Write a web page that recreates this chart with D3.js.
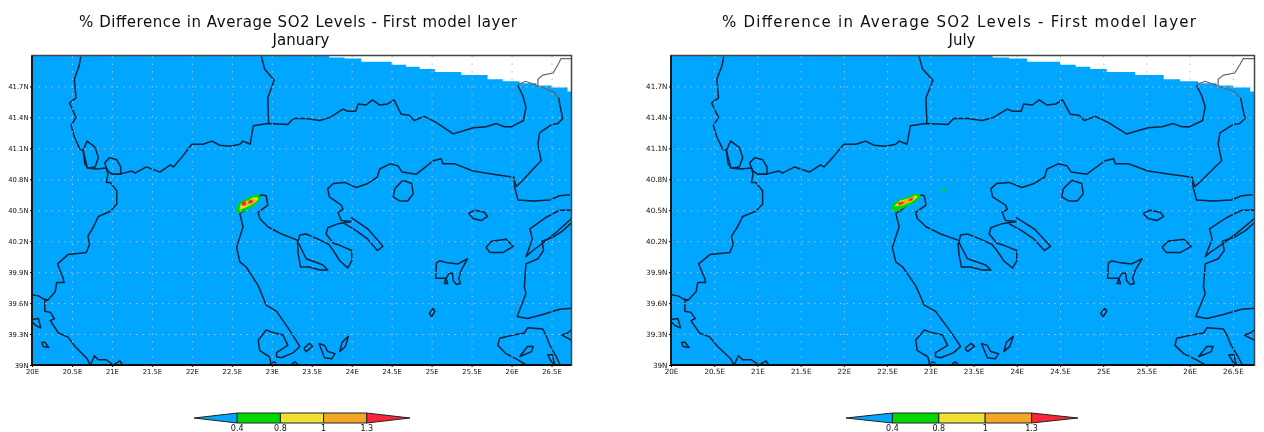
<!DOCTYPE html>
<html>
<head>
<meta charset="utf-8">
<title>SO2 difference</title>
<script src="https://cdnjs.cloudflare.com/ajax/libs/d3/7.8.5/d3.min.js"></script>
<style>
    body { margin: 0; background: #fff; }
    svg { display: block; }
    text { font-family: "DejaVu Sans", sans-serif; fill: #111; }
    .domain { display: none; }
</style>
</head>
<body>
<div id="chart"></div>
<script>
var titleText = "% Difference in Average SO2 Levels  - First model layer";
var months = ["January", "July"];

var lonTicks = [20, 20.5, 21, 21.5, 22, 22.5, 23, 23.5, 24, 24.5, 25, 25.5, 26, 26.5];
var latTicks = [39, 39.3, 39.6, 39.9, 40.2, 40.5, 40.8, 41.1, 41.4, 41.7];

var legendLevels = [0.4, 0.8, 1, 1.3];
var legendColors = ["#00a6ff", "#00d800", "#f0e030", "#f0a828", "#f82838"];

// upper edge of the model grid [lon, lat]
var gridEdge = [[20, 42], [23.72, 41.98], [23.91, 41.97], [24.12, 41.94], [24.5, 41.91], [24.68, 41.89], [24.85, 41.87],
    [25.04, 41.84], [25.37, 41.81], [25.7, 41.77], [25.89, 41.75], [26.1, 41.73], [26.31, 41.71], [26.5, 41.69], [26.7, 41.65], [26.75, 41.65]];

// coastlines and borders [lon, lat]
var albaniaBorder = [[20.61, 41.99], [20.59, 41.9], [20.53, 41.77], [20.55, 41.59], [20.47, 41.54], [20.55, 41.4], [20.49, 41.32],
    [20.53, 41.21], [20.6, 41.09], [20.64, 41.08], [20.68, 40.95], [20.69, 40.91], [20.81, 40.9], [20.93, 40.91], [20.95, 40.85],
    [20.93, 40.77], [20.98, 40.77], [21.06, 40.69], [21.06, 40.56], [20.98, 40.49], [20.83, 40.44], [20.77, 40.34], [20.7, 40.25],
    [20.72, 40.17], [20.68, 40.09], [20.45, 40.07], [20.32, 39.98], [20.39, 39.84], [20.4, 39.8], [20.31, 39.8], [20.29, 39.71],
    [20.2, 39.63], [20.16, 39.62], [20.16, 39.52], [20.23, 39.51], [20.28, 39.45], [20.23, 39.43], [20.33, 39.31], [20.45, 39.27],
    [20.54, 39.18], [20.69, 39.06], [20.73, 39]];
var epirusBranch = [[20, 39.68], [20.08, 39.67], [20.14, 39.64], [20.2, 39.63]];
var corfu = [[20, 39.44], [20.08, 39.45], [20.11, 39.36], [20.05, 39.38], [20, 39.42]];
var paxos = [[20.12, 39.22], [20.16, 39.22], [20.21, 39.17], [20.14, 39.18], [20.12, 39.22]];
var amvrakikos = [[20.73, 39], [20.78, 39.09], [20.83, 39.05], [20.93, 39.05], [21, 39.01], [21.02, 39], [21.1, 39.04], [21.13, 39]];
var lakeOhrid = [[20.64, 41.08], [20.69, 41.17], [20.79, 41.11], [20.83, 41.01], [20.79, 40.92], [20.7, 40.91], [20.66, 40.95], [20.64, 41.08]];
var lakePrespa = [[20.93, 40.91], [20.91, 40.96], [20.97, 41.01], [21.06, 40.99], [21.11, 40.92], [21.11, 40.85], [21, 40.85], [20.95, 40.88], [20.93, 40.91]];
var northBorder = [[21, 40.85], [21.1, 40.85], [21.25, 40.88], [21.29, 40.86], [21.43, 40.92], [21.6, 40.87], [21.73, 40.94], [21.77, 40.92],
    [21.87, 41.01], [22, 41.14], [22.14, 41.14], [22.25, 41.17], [22.35, 41.13], [22.48, 41.12], [22.6, 41.14], [22.64, 41.17],
    [22.73, 41.14], [22.77, 41.32], [22.95, 41.34], [23.2, 41.33], [23.27, 41.39], [23.43, 41.39], [23.6, 41.37], [23.73, 41.4],
    [23.89, 41.48], [23.95, 41.46], [24.05, 41.46], [24.08, 41.53], [24.18, 41.52], [24.26, 41.57], [24.35, 41.52], [24.45, 41.53],
    [24.53, 41.57], [24.62, 41.43], [24.72, 41.42], [24.78, 41.37], [24.91, 41.41], [25.06, 41.35], [25.27, 41.24], [25.52, 41.3],
    [25.68, 41.31], [25.81, 41.34], [25.91, 41.31], [26, 41.31], [26.15, 41.37], [26.18, 41.5], [26.14, 41.61], [26.08, 41.71]];
var serbiaBorder = [[22.87, 41.99], [22.91, 41.87], [23.03, 41.76], [22.95, 41.59], [22.96, 41.34]];
var evrosBorder = [[26.59, 41.59], [26.61, 41.5], [26.64, 41.39], [26.58, 41.34], [26.5, 41.33], [26.35, 41.25], [26.33, 41.14],
    [26.37, 40.98], [26.27, 40.9], [26.14, 40.79], [26.06, 40.73], [26.03, 40.8]];
var outerBorderA = [[26.08, 41.72], [26.18, 41.75], [26.31, 41.71], [26.41, 41.68], [26.52, 41.65], [26.59, 41.59]];
var outerBorderB = [[26.33, 41.71], [26.33, 41.77], [26.39, 41.81], [26.52, 41.83], [26.58, 41.91], [26.62, 41.97], [26.75, 41.97]];
var thraceCoast = [[26.73, 40.65], [26.6, 40.64], [26.48, 40.6], [26.27, 40.59], [26.08, 40.6], [26.04, 40.72], [26.03, 40.82], [25.77, 40.85],
    [25.52, 40.88], [25.29, 40.95], [25.14, 40.95], [25.12, 41], [25.02, 40.98], [24.81, 40.85], [24.63, 40.87], [24.58, 40.93], [24.48, 40.95],
    [24.35, 40.9], [24.32, 40.82], [24.2, 40.76], [24.06, 40.72], [23.91, 40.77], [23.77, 40.76], [23.7, 40.71], [23.72, 40.63], [23.87, 40.55],
    [23.89, 40.51], [23.83, 40.48], [23.87, 40.4], [24, 40.39]];
var athos = [[23.99, 40.43], [24.2, 40.32], [24.39, 40.15], [24.32, 40.11], [24.2, 40.22], [24.06, 40.3], [23.91, 40.37]];
var sithonia = [[24, 40.39], [23.83, 40.37], [23.7, 40.33], [23.68, 40.27], [23.77, 40.18], [23.85, 40.16], [24, 40.11], [24, 40.01], [23.95, 39.94],
    [23.85, 40.01], [23.77, 40.11], [23.71, 40.17], [23.58, 40.22], [23.43, 40.27], [23.35, 40.26], [23.33, 40.19], [23.43, 40.03], [23.5, 40.01],
    [23.64, 39.97], [23.7, 39.92], [23.6, 39.92], [23.47, 39.95], [23.36, 39.95], [23.33, 40.08], [23.32, 40.21]];
var thermaikos = [[23.32, 40.21], [23.12, 40.27], [22.95, 40.34], [22.85, 40.42], [22.83, 40.48], [22.95, 40.55], [22.93, 40.64], [22.87, 40.65],
    [22.8, 40.6], [22.66, 40.5], [22.6, 40.47], [22.64, 40.34], [22.56, 40.14], [22.6, 40], [22.68, 39.95], [22.83, 39.77], [22.93, 39.58],
    [23.06, 39.52], [23.22, 39.34], [23.35, 39.18], [23.27, 39.12], [23.12, 39.07], [23.06, 39.08], [23.06, 39.12], [23.2, 39.19], [23.14, 39.29],
    [22.99, 39.32], [22.93, 39.34], [22.83, 39.24], [22.85, 39.14], [22.97, 39.08], [22.99, 39.02], [22.97, 39]];
var pagasitikosEdge = [[22.99, 39], [23.02, 39.03], [23.06, 39.02]];
var euboeaTip = [[23.25, 39.01], [23.29, 39.03], [23.32, 39.01]];
var skiathos = [[23.4, 39.16], [23.47, 39.21], [23.51, 39.18], [23.43, 39.13], [23.4, 39.16]];
var skopelos = [[23.59, 39.21], [23.66, 39.19], [23.7, 39.13], [23.79, 39.11], [23.75, 39.06], [23.66, 39.07], [23.59, 39.21]];
var alonissos = [[23.96, 39.28], [23.92, 39.18], [23.85, 39.13], [23.88, 39.22], [23.96, 39.28]];
var thasos = [[24.54, 40.71], [24.64, 40.79], [24.75, 40.76], [24.77, 40.66], [24.7, 40.59], [24.6, 40.59], [24.52, 40.63], [24.54, 40.71]];
var samothraki = [[25.46, 40.47], [25.54, 40.5], [25.66, 40.48], [25.7, 40.44], [25.62, 40.4], [25.52, 40.42], [25.46, 40.47]];
var imbros = [[25.68, 40.14], [25.75, 40.2], [25.93, 40.22], [26.02, 40.15], [25.89, 40.09], [25.73, 40.09], [25.68, 40.14]];
var lemnos = [[25.06, 39.99], [25.1, 40.01], [25.2, 39.99], [25.33, 39.98], [25.45, 40.03], [25.37, 39.92], [25.34, 39.84], [25.36, 39.79],
    [25.31, 39.78], [25.27, 39.82], [25.26, 39.89], [25.22, 39.89], [25.18, 39.84], [25.05, 39.84], [25.06, 39.99]];
var lemnosBay = [[25.18, 39.84], [25.2, 39.79], [25.16, 39.79], [25.18, 39.84]];
var efstratios = [[25.02, 39.55], [25.04, 39.52], [25, 39.47], [24.97, 39.5], [25.02, 39.55]];
var gallipoli = [[26.75, 40.5], [26.6, 40.5], [26.43, 40.43], [26.23, 40.32], [26.26, 40.22], [26.18, 40.05], [26.25, 40.1], [26.39, 40.18], [26.55, 40.28], [26.75, 40.42]];
var anatolia = [[26.75, 40.38], [26.64, 40.3], [26.52, 40.24], [26.38, 40.2], [26.4, 40.11], [26.33, 40.03], [26.18, 39.98], [26.16, 39.76], [26.18, 39.69],
    [26.1, 39.53], [26.07, 39.47], [26.2, 39.45], [26.39, 39.49], [26.6, 39.54], [26.75, 39.55]];
var lesbos = [[26.18, 39], [26.08, 39.05], [25.93, 39.11], [25.83, 39.19], [25.85, 39.26], [26.02, 39.29], [26.16, 39.31], [26.2, 39.36], [26.39, 39.35],
    [26.43, 39.29], [26.48, 39.19], [26.56, 39.08], [26.61, 39]];
var lesbosGulf = [[26.1, 39.08], [26.2, 39.18], [26.27, 39.18], [26.25, 39.13], [26.16, 39.1], [26.1, 39.08]];
var lesbosEast = [[26.45, 39.1], [26.51, 39.1], [26.54, 39], [26.5, 39.03], [26.45, 39.1]];
var edremit = [[26.75, 39.34], [26.7, 39.31], [26.63, 39.29], [26.75, 39.24]];

var coastLines = [albaniaBorder, epirusBranch, corfu, paxos, amvrakikos, lakeOhrid, lakePrespa, northBorder, serbiaBorder, evrosBorder,
    thraceCoast, athos, sithonia, thermaikos, pagasitikosEdge, euboeaTip, skiathos, skopelos, alonissos, thasos, samothraki, imbros,
    lemnos, lemnosBay, efstratios, gallipoli, anatolia, lesbos, lesbosGulf, lesbosEast, edremit];
var outerLines = [outerBorderA, outerBorderB];

// filled contours of the plume near Thessaloniki [lon, lat]
var janGreen = [[22.56, 40.5], [22.59, 40.56], [22.66, 40.6], [22.75, 40.63], [22.83, 40.65], [22.85, 40.61], [22.79, 40.56], [22.68, 40.51], [22.6, 40.48]];
var janYellow = [[22.6, 40.51], [22.62, 40.56], [22.7, 40.59], [22.77, 40.62], [22.82, 40.62], [22.82, 40.6], [22.75, 40.56], [22.67, 40.53]];
var janOrange = [[22.62, 40.56], [22.7, 40.58], [22.78, 40.61], [22.8, 40.59], [22.73, 40.56], [22.64, 40.54]];
var janRedA = [[22.63, 40.58], [22.67, 40.58], [22.67, 40.55], [22.63, 40.55]];
var janRedB = [[22.72, 40.6], [22.76, 40.59], [22.75, 40.57], [22.71, 40.57]];
var julGreen = [[22.56, 40.5], [22.57, 40.55], [22.65, 40.6], [22.73, 40.62], [22.81, 40.65], [22.88, 40.65], [22.86, 40.61], [22.79, 40.57], [22.69, 40.53], [22.61, 40.5]];
var julYellow = [[22.59, 40.54], [22.65, 40.59], [22.75, 40.61], [22.84, 40.64], [22.84, 40.62], [22.77, 40.58], [22.67, 40.55]];
var julOrange = [[22.62, 40.56], [22.66, 40.58], [22.75, 40.61], [22.81, 40.63], [22.82, 40.62], [22.75, 40.58], [22.67, 40.55]];
var julRedA = [[22.63, 40.57], [22.68, 40.58], [22.69, 40.57], [22.64, 40.55]];
var julRedB = [[22.75, 40.6], [22.79, 40.62], [22.79, 40.6], [22.76, 40.59]];
var julSpeck = [[23.15, 40.7], [23.17, 40.7], [23.17, 40.68], [23.15, 40.68]];

var janBands = [[1, janGreen], [2, janYellow], [3, janOrange], [4, janRedA], [4, janRedB]];
var julBands = [[1, julGreen], [1, julSpeck], [2, julYellow], [3, julOrange], [4, julRedA], [4, julRedB]];


/*
 * MapPanel - one month of the figure
 * @param _svg    -- the svg selection to draw in
 * @param _month  -- month shown below the title
 * @param _bands  -- contour polygons as [colour index, points]
 * @param _box    -- pixel layout of this panel
 */

MapPanel = function(_svg, _month, _bands, _box){
    this.svg = _svg;
    this.month = _month;
    this.bands = _bands;
    this.box = _box;

    this.initVis();
}

MapPanel.prototype.initVis = function(){
    var vis = this;
    var box = vis.box;

    vis.x = d3.scaleLinear().domain([20, 26.75]).range([box.left, box.right]);
    vis.y = d3.scaleLinear().domain([39, 42]).range([box.bottom, box.top]);

    vis.g = vis.svg.append("g").attr("filter", "url(#soft)");

    vis.clipId = "clip-" + vis.month;
    vis.svg.append("clipPath").attr("id", vis.clipId)
        .append("rect")
        .attr("x", box.left)
        .attr("y", box.top)
        .attr("width", box.right - box.left)
        .attr("height", box.bottom - box.top);

    vis.updateVis();
}

MapPanel.prototype.updateVis = function(){
    var vis = this;
    var box = vis.box;
    var height = box.bottom - box.top;
    var width = box.right - box.left;

    var area = d3.area()
        .curve(d3.curveStepAfter)
        .x(function(d) { return vis.x(d[0]); })
        .y0(box.bottom)
        .y1(function(d) { return vis.y(d[1]); });

    var line = d3.line()
        .x(function(d) { return vis.x(d[0]); })
        .y(function(d) { return vis.y(d[1]); });

    var plot = vis.g.append("g").attr("clip-path", "url(#" + vis.clipId + ")");

    plot.append("path")
        .attr("d", area(gridEdge))
        .attr("fill", legendColors[0]);

    // dotted grid
    vis.g.append("g")
        .attr("transform", "translate(0," + box.bottom + ")")
        .call(d3.axisBottom(vis.x).tickValues(lonTicks.slice(1)).tickSize(-height).tickFormat(""))
        .selectAll("line")
        .attr("stroke", "#a9c4d8")
        .attr("stroke-dasharray", "1.5,6");

    vis.g.append("g")
        .attr("transform", "translate(" + box.left + ",0)")
        .call(d3.axisLeft(vis.y).tickValues(latTicks.slice(1)).tickSize(-width).tickFormat(""))
        .selectAll("line")
        .attr("stroke", "#a9c4d8")
        .attr("stroke-dasharray", "1.5,5");

    plot.selectAll("path.coast")
        .data(coastLines)
        .enter()
        .append("path")
        .attr("class", "coast")
        .attr("d", line)
        .attr("fill", "none")
        .attr("stroke", "#08233c")
        .attr("stroke-width", 1.5)
        .attr("stroke-linejoin", "round");

    plot.selectAll("path.outer")
        .data(outerLines)
        .enter()
        .append("path")
        .attr("class", "outer")
        .attr("d", line)
        .attr("fill", "none")
        .attr("stroke", "#666")
        .attr("stroke-width", 1.2);

    // contours sit on top of the coast
    plot.selectAll("path.band")
        .data(vis.bands)
        .enter()
        .append("path")
        .attr("class", "band")
        .attr("d", function(d) { return line(d[1]) + "Z"; })
        .attr("fill", function(d) { return legendColors[d[0]]; })
        .attr("stroke", function(d) { return legendColors[d[0]]; })
        .attr("stroke-width", function(d) { return d[0] === 1 ? 1.6 : 0.8; })
        .attr("stroke-linejoin", "round");

    // frame
    vis.g.append("rect")
        .attr("x", box.left)
        .attr("y", box.top)
        .attr("width", width)
        .attr("height", height)
        .attr("fill", "none")
        .attr("stroke", "#444")
        .attr("stroke-width", 1.5);

    vis.g.append("line")
        .attr("x1", box.left).attr("x2", box.left)
        .attr("y1", box.top).attr("y2", box.bottom)
        .attr("stroke", "#111").attr("stroke-width", 1.8);
    vis.g.append("line")
        .attr("x1", box.left).attr("x2", box.right)
        .attr("y1", box.bottom).attr("y2", box.bottom)
        .attr("stroke", "#111").attr("stroke-width", 1.8);

    // axes
    var xAxis = vis.g.append("g")
        .attr("transform", "translate(0," + box.bottom + ")")
        .call(d3.axisBottom(vis.x).tickValues(lonTicks).tickSize(2).tickPadding(2)
            .tickFormat(function(d) { return d + "E"; }));
    xAxis.selectAll("text").style("font-size", box.tickFont + "px").attr("fill", "#222");

    var yAxis = vis.g.append("g")
        .attr("transform", "translate(" + box.left + ",0)")
        .call(d3.axisLeft(vis.y).tickValues(latTicks).tickSize(2).tickPadding(1.5)
            .tickFormat(function(d) { return d + "N"; }));
    yAxis.selectAll("text").style("font-size", box.tickFont + "px").attr("fill", "#222");

    // titles
    vis.g.append("text")
        .attr("x", box.titleX)
        .attr("y", 27)
        .attr("textLength", box.titleWidth)
        .attr("lengthAdjust", "spacing")
        .style("font-size", "15px")
        .text(titleText);

    vis.g.append("text")
        .attr("x", box.titleX + box.titleWidth / 2 + 3)
        .attr("y", 45)
        .attr("text-anchor", "middle")
        .style("font-size", "15px")
        .text(vis.month);

    // colour bar
    var lx = d3.scaleLinear().domain([0, 5]).range([box.barLeft, box.barRight]);
    var barTop = 413, barBottom = 423, barMid = 418;

    var bar = vis.g.append("g");
    bar.selectAll("path")
        .data(legendColors)
        .enter()
        .append("path")
        .attr("d", function(d, i) {
            if (i === 0) {
                return "M" + lx(0) + "," + barMid + "L" + lx(1) + "," + barTop + "L" + lx(1) + "," + barBottom + "Z";
            }
            if (i === legendColors.length - 1) {
                return "M" + lx(5) + "," + barMid + "L" + lx(4) + "," + barTop + "L" + lx(4) + "," + barBottom + "Z";
            }
            return "M" + lx(i) + "," + barTop + "H" + lx(i + 1) + "V" + barBottom + "H" + lx(i) + "Z";
        })
        .attr("fill", function(d) { return d; })
        .attr("stroke", "#222")
        .attr("stroke-width", 1);

    bar.selectAll("text")
        .data(legendLevels)
        .enter()
        .append("text")
        .attr("x", function(d, i) { return lx(i + 1); })
        .attr("y", 431)
        .attr("text-anchor", "middle")
        .style("font-size", "8px")
        .text(function(d) { return d; });
}


var svg = d3.select("#chart").append("svg")
    .attr("width", 1264)
    .attr("height", 432);

svg.append("defs").append("filter")
    .attr("id", "soft")
    .attr("x", 0).attr("y", 0)
    .attr("width", 1264).attr("height", 432)
    .attr("filterUnits", "userSpaceOnUse")
    .append("feGaussianBlur")
    .attr("stdDeviation", 0.45);

new MapPanel(svg, months[0], janBands, {
    left: 32, right: 571.5, top: 55.5, bottom: 365,
    titleX: 79, titleWidth: 438, tickFont: 6.8,
    barLeft: 194, barRight: 410
});
new MapPanel(svg, months[1], julBands, {
    left: 671, right: 1254.5, top: 55.5, bottom: 365,
    titleX: 722, titleWidth: 474, tickFont: 7.2,
    barLeft: 846, barRight: 1078
});
</script>
</body>
</html>
